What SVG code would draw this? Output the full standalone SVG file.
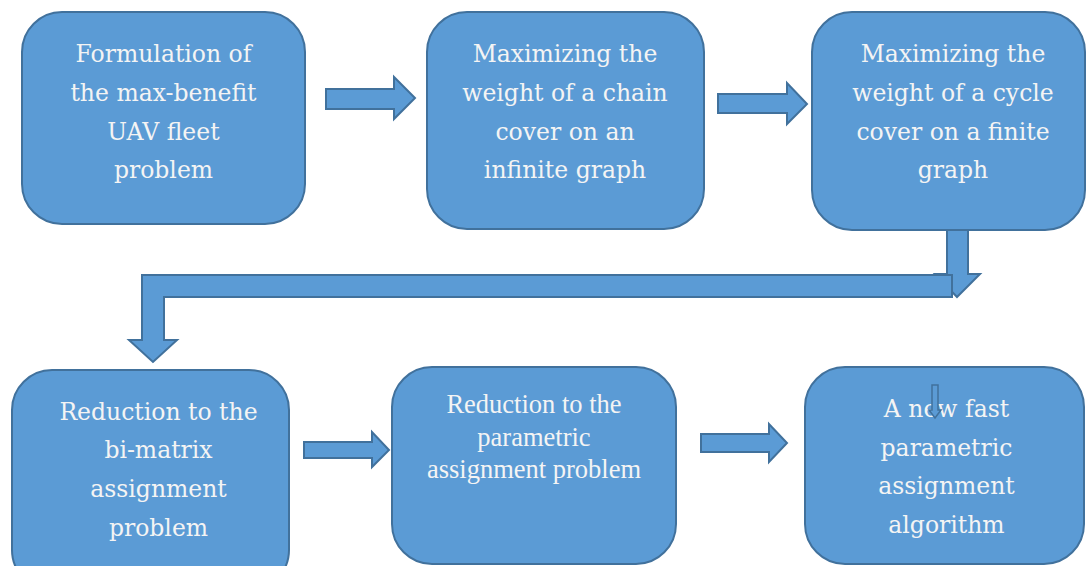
<svg xmlns="http://www.w3.org/2000/svg" width="1086" height="566" viewBox="0 0 1086 566">
<style>
.box{fill:#5B9BD5;stroke:#41719C;stroke-width:2}
.arr{fill:#5B9BD5;stroke:#41719C;stroke-width:2;stroke-linejoin:miter}
.t{font-family:"DejaVu Serif","Liberation Serif",serif;font-size:23.5px;fill:#F4F4F4;text-anchor:middle}
.tt{font-family:"Liberation Serif","Times New Roman",serif;font-size:26.5px;fill:#F4F4F4;text-anchor:middle}
</style>
<rect width="1086" height="566" fill="#FFFFFF"/>
<g id="n1">
<rect class="box" x="22" y="12" width="283" height="212" rx="40"/>
<text class="t"><tspan x="163.5" y="62">Formulation of</tspan><tspan x="163.5" y="101">the max-benefit</tspan><tspan x="163.5" y="140">UAV fleet</tspan><tspan x="163.5" y="178">problem</tspan></text>
</g>
<g id="n2">
<rect class="box" x="427" y="12" width="277" height="217" rx="40"/>
<text class="t"><tspan x="565" y="62">Maximizing the</tspan><tspan x="565" y="101">weight of a chain</tspan><tspan x="565" y="140">cover on an</tspan><tspan x="565" y="178">infinite graph</tspan></text>
</g>
<g id="n3">
<rect class="box" x="812" y="12" width="273" height="218" rx="40"/>
<text class="t"><tspan x="953" y="62">Maximizing the</tspan><tspan x="953" y="101">weight of a cycle</tspan><tspan x="953" y="140">cover on a finite</tspan><tspan x="953" y="178">graph</tspan></text>
</g>
<g id="connectors">
<path class="arr" d="M326,89 L394,89 L394,77 L415,98 L394,119 L394,109 L326,109 Z"/>
<path class="arr" d="M718,94 L787,94 L787,83 L807,104 L787,124 L787,113 L718,113 Z"/>
<path class="arr" d="M947,230 L968,230 L968,274 L980,274 L957,297 L935,274 L947,274 Z"/>
<path class="arr" d="M952,275 L142,275 L142,340 L129,340 L153,362 L177,340 L164,340 L164,297 L952,297 Z"/>
<path class="arr" d="M304,442 L372,442 L372,432 L389,450 L372,467 L372,458 L304,458 Z"/>
<path class="arr" d="M701,434 L769,434 L769,424 L787,443 L769,462 L769,452 L701,452 Z"/>
</g>
<g id="n4">
<rect class="box" x="12" y="370" width="277" height="220" rx="40"/>
<text class="t"><tspan x="158.5" y="420">Reduction to the</tspan><tspan x="158.5" y="458">bi-matrix</tspan><tspan x="158.5" y="497">assignment</tspan><tspan x="158.5" y="536">problem</tspan></text>
</g>
<g id="n5">
<rect class="box" x="392" y="367" width="284" height="197" rx="40"/>
<text class="tt"><tspan x="534" y="413">Reduction to the</tspan><tspan x="534" y="446">parametric</tspan><tspan x="534" y="478">assignment problem</tspan></text>
</g>
<g id="n6">
<rect class="box" x="805" y="367" width="279" height="197" rx="40"/>
<text class="t"><tspan x="946.5" y="417">A new fast</tspan><tspan x="946.5" y="456">parametric</tspan><tspan x="946.5" y="494">assignment</tspan><tspan x="946.5" y="533">algorithm</tspan></text>
<path fill="#5B9BD5" stroke="#41719C" stroke-width="1.5" d="M932,385 L938,385 L938,410 L941,410 L935,418 L929,410 L932,410 Z"/>
</g>
</svg>
